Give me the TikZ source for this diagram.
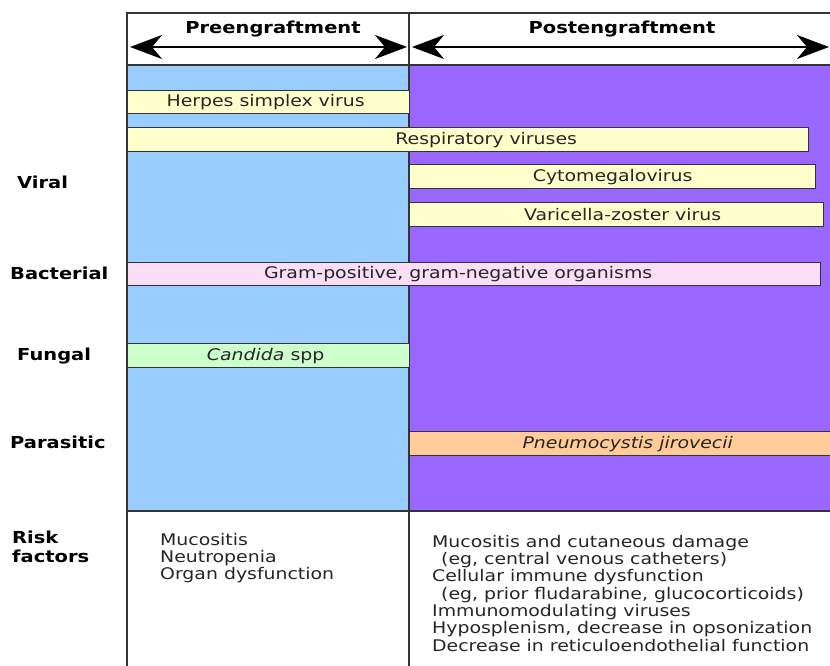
\documentclass[tikz,border=0pt]{standalone}
\usepackage{fontspec}
\newfontfamily\diagfont[FakeStretch=1.18]{DejaVu Sans}
\usetikzlibrary{arrows.meta,positioning,calc}

\definecolor{preblue}{HTML}{99CCFF}
\definecolor{postpurple}{HTML}{9966FF}
\definecolor{viralyellow}{HTML}{FFFFCC}
\definecolor{bactpink}{HTML}{FADDF6}
\definecolor{fungalgreen}{HTML}{CCFFCC}
\definecolor{parasorange}{HTML}{FFCC99}
\definecolor{framegray}{HTML}{333333}

\newcommand{\barfont}{\diagfont\fontsize{16}{17.3}\selectfont}
\newcommand{\labelfont}{\diagfont\bfseries\fontsize{16.5}{19}\selectfont}

\begin{document}
\begin{tikzpicture}[x=1pt,y=-1pt,
  frame/.style={draw=framegray, line width=1.4pt},
  bar/.style={draw=framegray, line width=1.3pt, minimum height=24pt, inner sep=0pt, anchor=north west, font=\barfont, text=black!85},
  rowlabel/.style={anchor=west, font=\labelfont, inner sep=0pt},
  hdrarrow/.style={{Stealth[length=32pt,width=24pt,inset=10pt]}-{Stealth[length=32pt,width=24pt,inset=10pt]}, line width=2.5pt},
  risktext/.style={anchor=north west, align=left, font=\barfont, inner sep=0pt, text=black!85}]
\useasboundingbox[fill=white] (0,0) rectangle (830,666);

% Phase backgrounds
\fill[preblue] (127,65) rectangle (409,511);
\fill[postpurple] (409,65) rectangle (830,511);

% Frame
\draw[frame] (830,13) -- (127,13) -- (127,666);
\draw[frame] (409,13) -- (409,666);
\draw[frame] (127,65) -- (830,65);
\draw[frame] (127,511) -- (830,511);

% Header arrows
\coordinate (preleft) at (130,47);
\coordinate (preright) at (407,47);
\coordinate (postleft) at (412,47);
\coordinate (postright) at (829,47);
\draw[hdrarrow] (preleft) -- (preright);
\draw[hdrarrow] (postleft) -- (postright);
\node[font=\labelfont] (pretitle) at (273,29) {Preengraftment};
\node[font=\labelfont] (posttitle) at (622,29) {Postengraftment};

% Row labels
\node[rowlabel] (viral) at (17,182) {Viral};
\node[rowlabel] (bacterial) at (10,273) {Bacterial};
\node[rowlabel] (fungal) at (17,356) {Fungal};
\node[rowlabel] (parasitic) at (10,442) {Parasitic};
\node[rowlabel, anchor=north west, align=left] (risk) at (12,531) {Risk\\factors};

% Infection bars
\node[bar, fill=viralyellow, minimum width=282pt, minimum height=23pt] (hsv) at (127,90) {Herpes simplex virus\hspace*{6pt}};
\node[bar, fill=viralyellow, minimum width=681pt] (resp) at (127,127) {\hspace*{36pt}Respiratory viruses};
\node[bar, fill=viralyellow, minimum width=406pt] (cmv) at (409,164) {Cytomegalovirus};
\node[bar, fill=viralyellow, minimum width=414pt] (vzv) at (409,202) {\hspace*{12pt}Varicella-zoster virus};
\node[bar, fill=bactpink, minimum width=693pt, minimum height=23pt] (gram) at (127,262) {Gram-positive, gram-negative organisms\hspace*{32pt}};
\node[bar, fill=fungalgreen, minimum width=282pt] (candida) at (127,343) {\textit{Candida} spp\hspace*{6pt}};
\node[bar, fill=parasorange, minimum width=424pt] (pneumo) at (409,431) {\hspace*{12pt}\textit{Pneumocystis jirovecii}};

% Risk factors
\node[risktext] (prerisk) at (160,533) {Mucositis\\Neutropenia\\Organ dysfunction};
\node[risktext] (postrisk) at (432,535) {Mucositis and cutaneous damage\\
  \hspace*{9pt}(eg, central venous catheters)\\
  Cellular immune dysfunction\\
  \hspace*{9pt}(eg, prior fludarabine, glucocorticoids)\\
  Immunomodulating viruses\\
  Hyposplenism, decrease in opsonization\\
  Decrease in reticuloendothelial function};

\end{tikzpicture}
\end{document}
